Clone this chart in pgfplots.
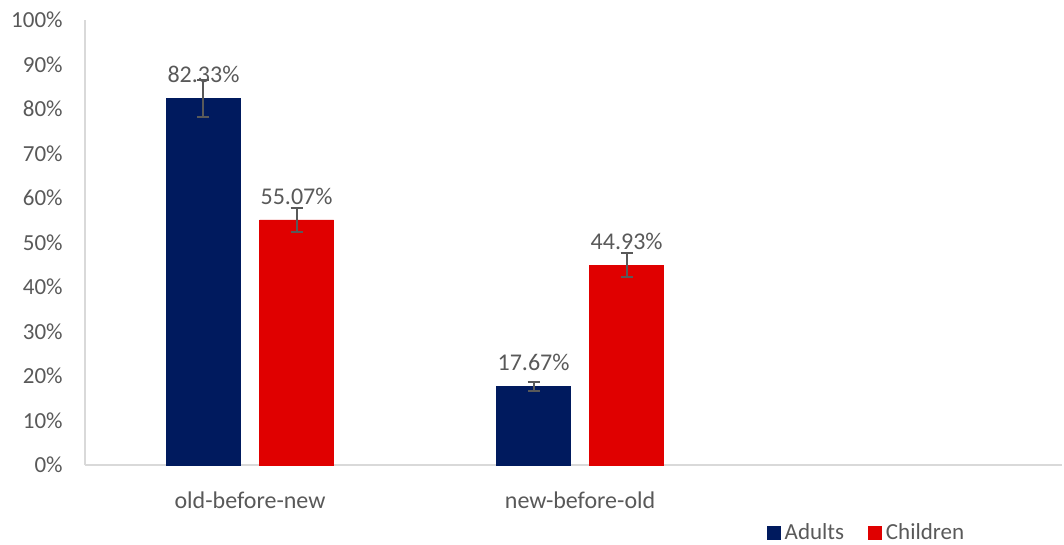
\documentclass[border=0pt]{standalone}
\usepackage{fontspec}
\setmainfont{Carlito}
\usepackage{pgfplots}
\pgfplotsset{compat=1.18}
\definecolor{adults}{HTML}{001A5E}
\definecolor{children}{HTML}{E00000}
\definecolor{txt}{HTML}{595959}
\definecolor{axln}{HTML}{D9D9D9}

\begin{document}
\begin{tikzpicture}
\begin{axis}[
  scale only axis, width=488.5pt, height=222.5pt,
  ymin=0, ymax=100, xmin=-0.5, xmax=2.46,
  axis x line*=bottom, axis y line*=left,
  axis line style={axln, line width=0.8pt, -},
  major tick length=0pt,
  ytick={0,10,...,100},
  yticklabels={0\%,10\%,20\%,30\%,40\%,50\%,60\%,70\%,80\%,90\%,100\%},
  xtick={0,1},
  xticklabels={old-before-new,new-before-old},
  yticklabel style={anchor=east, inner sep=0pt, xshift=-11pt, text=txt, font=\fontsize{11.5}{14}\selectfont},
  xticklabel style={anchor=center, inner sep=0pt, yshift=-17.5pt, text=txt, font=\fontsize{12}{14}\selectfont},
  ybar, bar width=0.224,
  clip=false,
  /pgf/number format/assume math mode=true,
  nodes near coords={\pgfmathprintnumber[fixed,fixed zerofill,precision=2]{\pgfplotspointmeta}\%},
  nodes near coords style={anchor=center, yshift=12pt, text=txt, font=\fontsize{12}{14}\selectfont},
  legend style={at={(axis description cs:0.801,0)}, anchor=center, yshift=-34pt,
    draw=none, fill=none, legend columns=2, text=txt, font=\fontsize{11.5}{14}\selectfont,
    inner sep=1pt, /tikz/every even column/.append style={column sep=10pt}},
]
\addplot[fill=adults, draw=adults, bar shift=-0.141,
  legend image code/.code={\fill[adults] (0pt,-3.25pt) rectangle (6.5pt,3.25pt);},
  error bars/.cd, y dir=both, y explicit,
  error bar style={txt, line width=1pt},
  error mark options={rotate=90, txt, line width=1pt, mark size=3pt}]
  coordinates {(0,82.33) +- (0,4.2) (1,17.67) +- (0,1.0)};
\addplot[fill=children, draw=children, bar shift=0.141,
  legend image code/.code={\fill[children] (0pt,-3.25pt) rectangle (6.5pt,3.25pt);},
  error bars/.cd, y dir=both, y explicit,
  error bar style={txt, line width=1pt},
  error mark options={rotate=90, txt, line width=1pt, mark size=3pt}]
  coordinates {(0,55.07) +- (0,2.7) (1,44.93) +- (0,2.6)};
\legend{Adults,Children}
\end{axis}
\pgfresetboundingbox
\path[use as bounding box] (current axis.south west) ++(-42.5pt,-40pt) rectangle ++(532pt,272.5pt);
\end{tikzpicture}
\end{document}
